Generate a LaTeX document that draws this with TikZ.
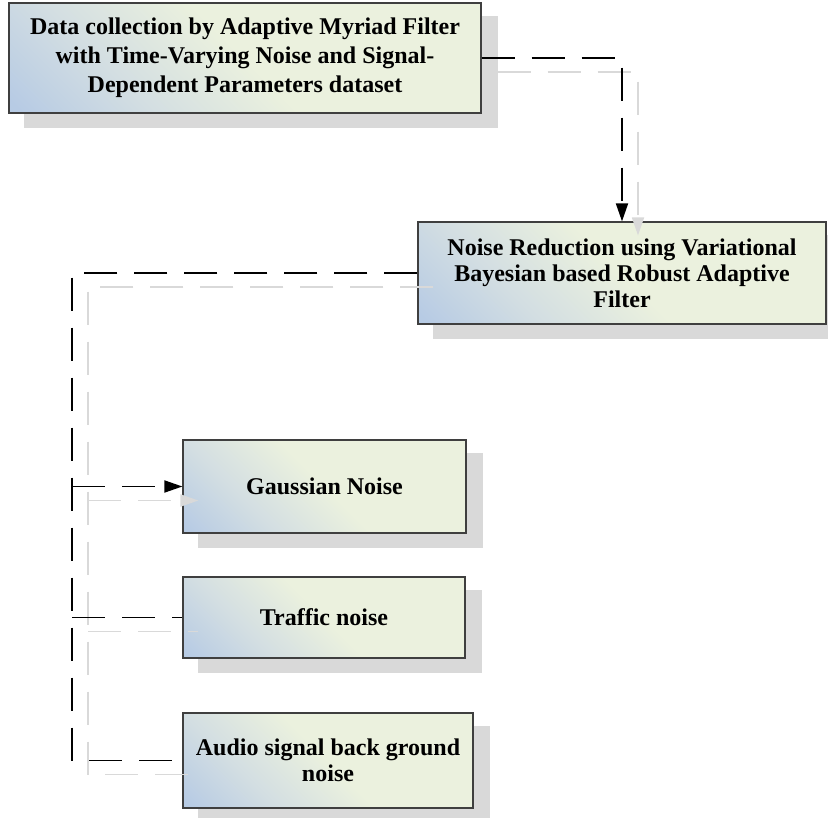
\documentclass[tikz,border=0pt]{standalone}
\usepackage{fontspec}
\setmainfont{Liberation Serif}
\usetikzlibrary{arrows.meta,backgrounds}
\definecolor{boxblue}{HTML}{B7CBE4}
\definecolor{boxmid}{HTML}{D3DEE2}
\definecolor{boxcream}{HTML}{EBF1DE}
\definecolor{shadowgray}{HTML}{D9D9D9}
\definecolor{linegray}{HTML}{D9D9D9}
\definecolor{edgegray}{HTML}{3F3F3F}
\pgfdeclareverticalshading{boxshade}{100bp}{color(0bp)=(boxblue); color(16bp)=(boxblue); color(32bp)=(boxmid); color(50bp)=(boxcream); color(100bp)=(boxcream)}
\tikzset{
  box/.style={draw=edgegray, line width=1.2pt, shade, shading=boxshade, shading angle=-45,
    inner sep=0pt, align=center, font=\bfseries\fontsize{24}{29}\selectfont},
  conn/.style={draw=black, line width=1.8pt, dash pattern=on 33pt off 17pt},
  shadowconn/.style={draw=linegray, line width=1.8pt, dash pattern=on 33pt off 17pt,
    transform canvas={xshift=16pt,yshift=-14pt}},
  tip/.style={-{Triangle[length=18pt,width=12pt]}},
}
\begin{document}
\begin{tikzpicture}[x=1pt,y=-1pt]
\useasboundingbox (0,0) rectangle (828,818);
% boxes
\node[box, minimum width=472pt, minimum height=110pt] (n1) at (245,58)
  {Data collection by Adaptive Myriad Filter\\with Time-Varying Noise and Signal-\\Dependent Parameters dataset};
\node[box, minimum width=408pt, minimum height=102pt, font=\bfseries\fontsize{24}{26}\selectfont] (n2) at (622,273)
  {Noise Reduction using Variational\\Bayesian based Robust Adaptive\\Filter};
\node[box, minimum width=283pt, minimum height=93pt] (n3) at (324.5,486.5) {Gaussian Noise};
\node[box, minimum width=282pt, minimum height=81pt] (n4) at (324,617.5) {Traffic noise};
\node[box, minimum width=290pt, minimum height=95pt, font=\bfseries\fontsize{24}{26}\selectfont] (n5) at (328,760.5)
  {Audio signal back ground\\noise};
% shadows
\begin{scope}[on background layer]
  \foreach \n in {n1,n2,n3,n4,n5}
    \fill[shadowgray] ([shift={(16,14)}]\n.north west) rectangle ([shift={(16,14)}]\n.south east);
\end{scope}
\coordinate (tx) at (72,272);
% shadow connectors
\draw[shadowconn, tip] (n1.east) -| (n2.north);
\draw[shadowconn] (n2.west) -| (tx |- n5.west) -- (n5.west);
\draw[shadowconn, tip] (tx |- n3.west) -- (n3.west);
\draw[shadowconn] (tx |- n4.west) -- (n4.west);
% connectors
\draw[conn, tip] (n1.east) -| (n2.north);
\draw[conn] (n2.west) -| (tx |- n5.west) -- (n5.west);
\draw[conn, tip] (tx |- n3.west) -- (n3.west);
\draw[conn] (tx |- n4.west) -- (n4.west);
\end{tikzpicture}
\end{document}
